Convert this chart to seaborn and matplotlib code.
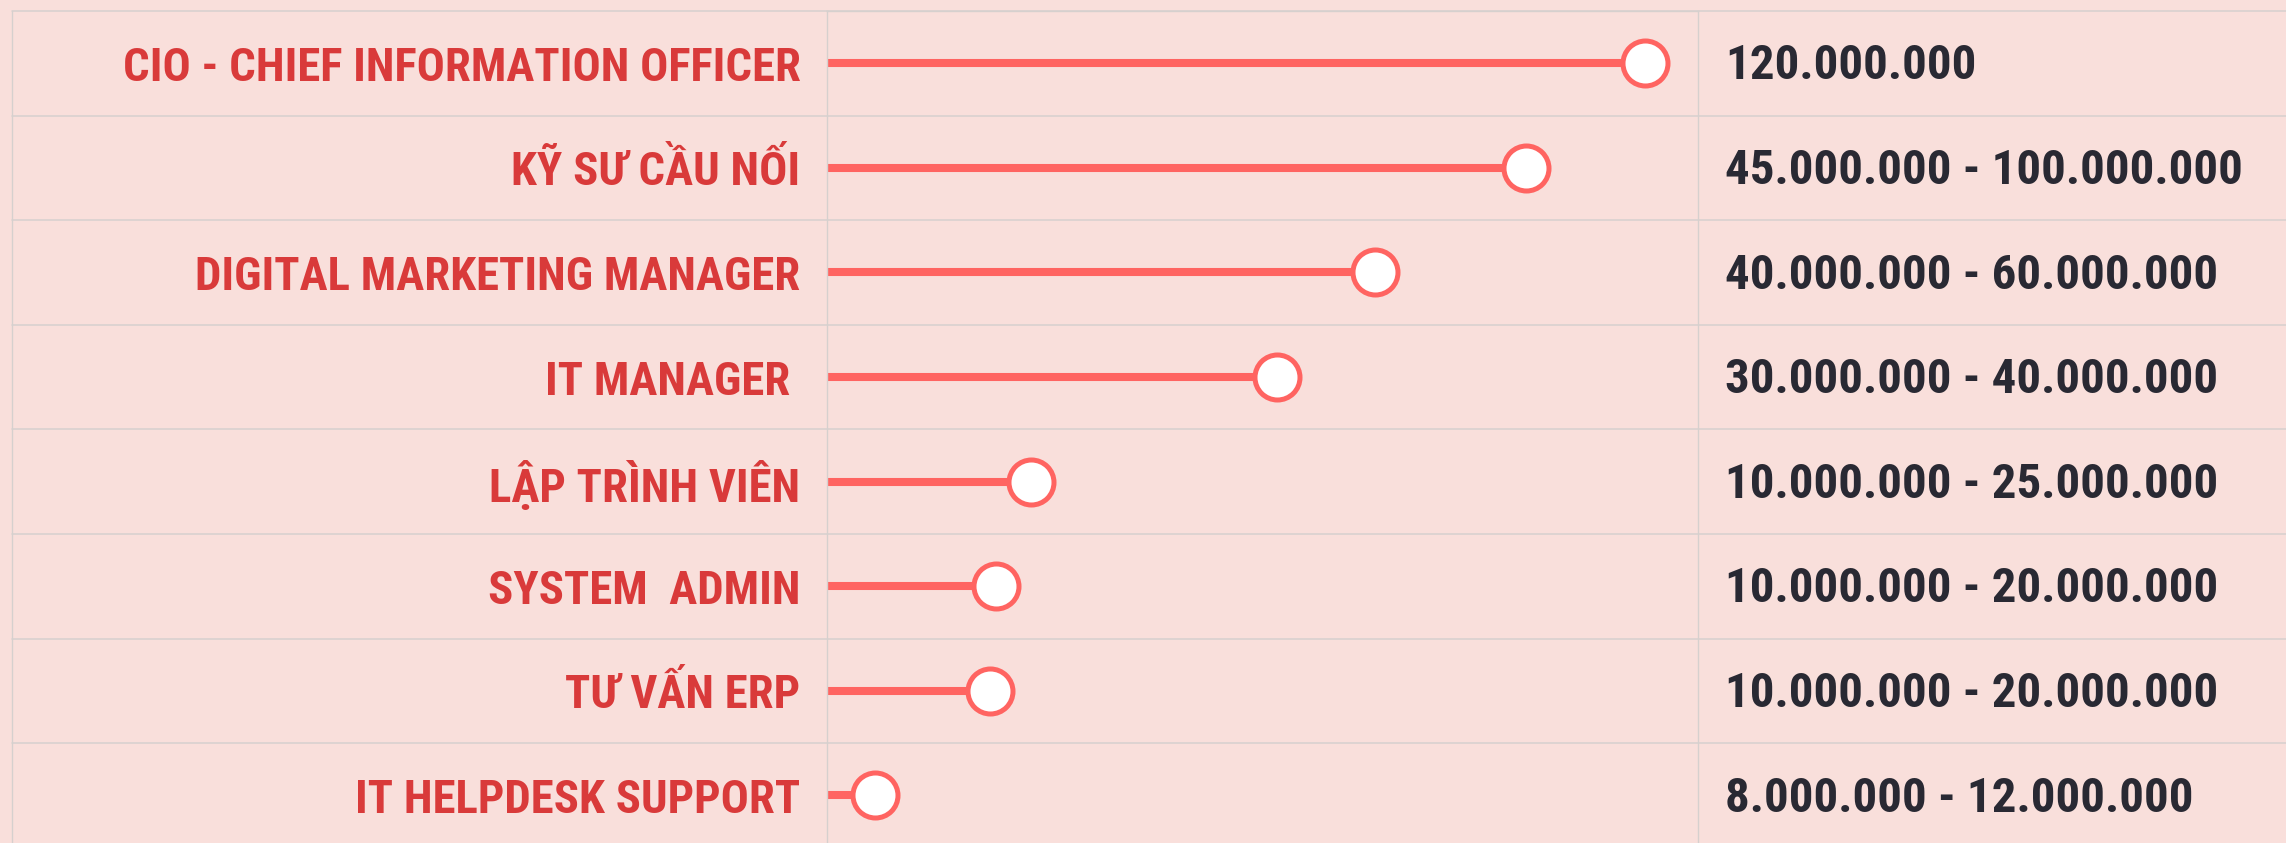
import matplotlib
matplotlib.use("Agg")
import matplotlib.pyplot as plt
from matplotlib import font_manager as fm
import seaborn as sns
import pandas as pd

# ---- data ----
jobs = ["CIO - CHIEF INFORMATION OFFICER", "KỸ SƯ CẦU NỐI", "DIGITAL MARKETING MANAGER",
        "IT MANAGER ", "LẬP TRÌNH VIÊN", "SYSTEM  ADMIN", "TƯ VẤN ERP", "IT HELPDESK SUPPORT"]
scores = [93.9, 80.3, 62.9, 51.7, 23.4, 19.4, 18.7, 5.5]
salaries = ["120.000.000", "45.000.000 - 100.000.000", "40.000.000 - 60.000.000",
            "30.000.000 - 40.000.000", "10.000.000 - 25.000.000", "10.000.000 - 20.000.000",
            "10.000.000 - 20.000.000", "8.000.000 - 12.000.000"]

BG = "#f9dfdb"
GRID = "#d6d0ce"
RED = "#d93a3a"
CORAL = "#ff6461"
DARK = "#292933"

def pick(cands):
    for name in cands:
        try:
            fm.findfont(fm.FontProperties(family=name, weight="bold"), fallback_to_default=False)
            return name
        except Exception:
            pass
    return "DejaVu Sans"

FONT = pick(["Roboto Condensed", "Liberation Sans Narrow", "Open Sans Condensed", "DejaVu Sans"])

sns.set_theme(style="white")
plt.rcParams["font.family"] = [FONT, "DejaVu Sans"]

W, H = 2286, 843
fig = plt.figure(figsize=(W / 100, H / 100), dpi=100, facecolor=BG)

# table geometry (pixels)
top, row_h, n = 11, 104.6, len(jobs)
col0, col1, col2 = 12, 827, 1698
bottom = top + row_h * n
ax = fig.add_axes([col1 / W, 1 - bottom / H, (col2 - col1) / W, (bottom - top) / H])
ax.set_facecolor(BG)

df = pd.DataFrame({"job": jobs, "score": scores, "pos": range(n)})
ax.hlines(df["pos"], 0, df["score"], color=CORAL, lw=5.8, zorder=2)
sns.scatterplot(data=df, x="score", y="pos", ax=ax, s=1050, color="white",
                edgecolor=CORAL, linewidth=3.6, zorder=3, legend=False, clip_on=False)
ax.set_xlim(0, 100)
ax.set_ylim(n - 0.5, -0.5)
ax.set_xlabel("")
ax.set_ylabel("")
ax.set_xticks([])
ax.set_yticks(range(n))

fs_lab = 30
ax.set_yticklabels(jobs, fontsize=fs_lab, color=RED, fontweight="bold", fontstretch="condensed")
ax.tick_params(axis="y", length=0, pad=19)

for s in ax.spines.values():
    s.set_color(GRID)
    s.set_linewidth(1.0)
ax.spines["bottom"].set_visible(False)

xl = (col0 - col1) / (col2 - col1)
xr = (W - col1) / (col2 - col1)
xt = (1725 - col1) / (col2 - col1)
for i in range(n):
    ax.axhline(i - 0.5, xmin=xl, xmax=xr, color=GRID, lw=1.1, clip_on=False, zorder=1)
ax.plot([xl, xl], [0, 1], transform=ax.transAxes, color=GRID, lw=1.0, clip_on=False)

fs_sal = 34
txts = []
for i, s in enumerate(salaries):
    t = ax.text(xt, i + 0.03, s, transform=ax.get_yaxis_transform(), ha="left", va="center",
                fontsize=fs_sal, color=DARK, fontweight="bold", fontstretch="condensed")
    txts.append(t)

# fit font sizes to reference text widths
fig.canvas.draw()
r = fig.canvas.get_renderer()
w_lab = ax.get_yticklabels()[0].get_window_extent(r).width
new_lab = min(fs_lab * 677 / w_lab, 49)
for lb in ax.get_yticklabels():
    lb.set_fontsize(new_lab)
w_sal = txts[1].get_window_extent(r).width
new_sal = min(fs_sal * 519 / w_sal, 47)
for t in txts:
    t.set_fontsize(new_sal)

fig.savefig("out.png", dpi=100, facecolor=BG)
